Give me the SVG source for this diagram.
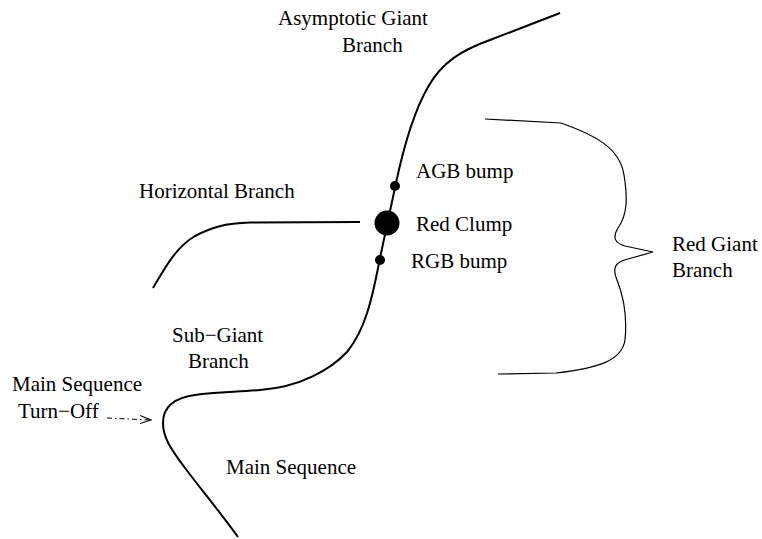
<svg xmlns="http://www.w3.org/2000/svg" width="762" height="539" viewBox="0 0 762 539">
<defs>
<style>
text{font-family:"Liberation Serif","Times New Roman",serif;font-size:21px;fill:#000}
.thick{fill:none;stroke:#000;stroke-width:2}
.thin{fill:none;stroke:#000;stroke-width:1.2}
.dot{fill:#000}
</style>
<marker id="openArrow" viewBox="0 0 12 10" refX="11" refY="5" markerWidth="12" markerHeight="10" markerUnits="userSpaceOnUse" orient="auto">
<path d="M0,1 L11,5 L0,9" fill="none" stroke="#000" stroke-width="1"/>
</marker>
</defs>
<rect width="762" height="539" fill="#fff"/>
<g id="connectors">
<path id="main-curve" class="thick" d="M238,537 C220,512 200,488 185,468 C170,448 163,437 163,423 C163,408 172,398 195,395 C215,392 240,392 260,390 C300,387 330,370 347,352 C365,330 372,300 380,258 L396,183 C403,150 412,115 428,87 C442,62 462,50 490,40 L560,13"/>
<path id="horizontal-branch-curve" class="thick" d="M153,288 C165,268 175,248 195,236 C210,228 225,223 250,222.5 L360,222"/>
<path id="rgb-brace" class="thin" d="M485,119 L561,123 C595,135 620,148 624,175 C628,200 627,215 618,228 C612,238 615,243 625,246 L653,252 L628,259 C615,262 612,268 617,280 C625,300 627,320 625,340 C622,360 600,368 556,373 L498,374"/>
<path id="turnoff-arrow" fill="none" stroke="#000" stroke-width="1" stroke-dasharray="5,3,1.5,3" d="M107,418 L151,420" marker-end="url(#openArrow)"/>
</g>
<g id="red-clump-dot"><circle class="dot" cx="387" cy="223" r="12.5"/></g>
<g id="agb-bump-dot"><circle class="dot" cx="395" cy="186" r="5"/></g>
<g id="rgb-bump-dot"><circle class="dot" cx="380" cy="260" r="5"/></g>
<g id="asymptotic-giant-branch"><text x="278" y="25">Asymptotic Giant</text><text x="342" y="52">Branch</text></g>
<g id="horizontal-branch"><text x="139" y="198">Horizontal Branch</text></g>
<g id="agb-bump"><text x="416" y="178">AGB bump</text></g>
<g id="red-clump"><text x="416" y="231">Red Clump</text></g>
<g id="rgb-bump"><text x="411" y="268">RGB bump</text></g>
<g id="red-giant-branch"><text x="672" y="251">Red Giant</text><text x="672" y="277">Branch</text></g>
<g id="sub-giant-branch"><text x="172" y="342">Sub−Giant</text><text x="188" y="368">Branch</text></g>
<g id="main-sequence-turn-off"><text x="12" y="391">Main Sequence</text><text x="18" y="418">Turn−Off</text></g>
<g id="main-sequence"><text x="226" y="474">Main Sequence</text></g>
</svg>
